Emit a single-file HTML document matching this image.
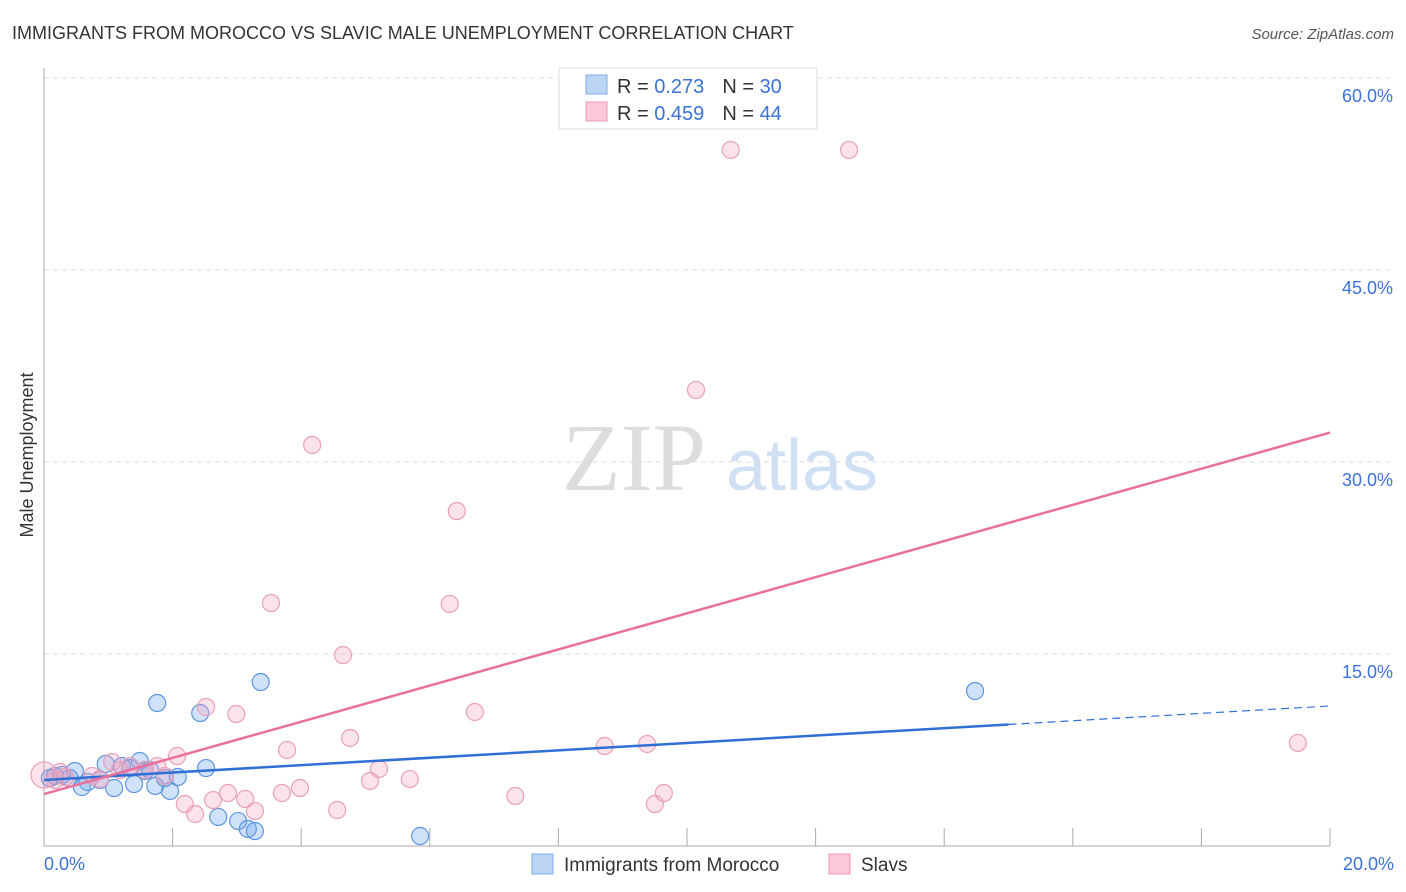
<!DOCTYPE html>
<html><head><meta charset="utf-8"><style>
body{margin:0;background:#fff;font-family:"Liberation Sans",sans-serif}
svg{display:block}
</style></head><body>
<svg id="chart" width="1406" height="892" xmlns="http://www.w3.org/2000/svg">
<text x="12" y="39" font-size="18" fill="#333">IMMIGRANTS FROM MOROCCO VS SLAVIC MALE UNEMPLOYMENT CORRELATION CHART</text>
<text x="1394" y="39" font-size="15" fill="#555" font-style="italic" text-anchor="end">Source: ZipAtlas.com</text>
<g>
<text x="634" y="490" font-size="96" fill="#ddd" font-family="Liberation Serif,serif" text-anchor="middle">ZIP</text>
<text x="802" y="490" font-size="72" fill="#cfe0f5" text-anchor="middle">atlas</text>
</g>
<g id="grid"></g><g id="axes"></g><g id="marks"></g><g id="lines"></g>
<text transform="translate(33,455) rotate(-90)" font-size="18" fill="#333" text-anchor="middle">Male Unemployment</text>
<text x="44" y="870" font-size="18" fill="#3a72d8">0.0%</text>
<text x="1394" y="870" font-size="18" fill="#3a72d8" text-anchor="end">20.0%</text>
<g>
<rect x="559" y="68" width="258" height="61" fill="#fff" stroke="#ddd"/>
<rect x="586" y="75" width="21" height="19" fill="#bcd5f5" stroke="#7eaee8"/>
<rect x="586" y="102" width="21" height="19" fill="#fac8d7" stroke="#ef9ab5"/>
<text x="617" y="93" font-size="20" fill="#333">R = <tspan fill="#3a72d8">0.273</tspan><tspan dx="18">N = </tspan><tspan fill="#3a72d8">30</tspan></text>
<text x="617" y="120" font-size="20" fill="#333">R = <tspan fill="#3a72d8">0.459</tspan><tspan dx="18">N = </tspan><tspan fill="#3a72d8">44</tspan></text>
</g>
<g>
<rect x="532" y="854" width="21" height="20" fill="#bcd5f5" stroke="#7eaee8"/>
<text x="564" y="871" font-size="19" fill="#333">Immigrants from Morocco</text>
<rect x="829" y="854" width="21" height="20" fill="#fac8d7" stroke="#ef9ab5"/>
<text x="861" y="871" font-size="19" fill="#333">Slavs</text>
</g>
</svg>
<script>
const yTicks=[15,30,45,60];
const yTickLabels=["15.0%","30.0%","45.0%","60.0%"];
const xTicks=[0,2,4,6,8,10,12,14,16,18,20];
const blueX=[.09,.17,.28,.40,.48,.59,.68,.87,.96,1.09,1.21,1.34,1.40,1.49,1.57,1.65,1.73,1.76,1.88,1.96,2.08,2.43,2.52,2.71,3.02,3.17,3.28,3.37,5.85,14.48];
const blueY=[5.31,5.47,5.55,5.31,5.86,4.61,5.0,5.16,6.41,4.53,6.25,6.09,4.84,6.64,5.86,5.94,4.69,11.17,5.31,4.30,5.39,10.39,6.09,2.27,1.95,1.33,1.17,12.81,0.78,12.11];
const pinkX=[0,.17,.25,.33,.75,.87,1.06,1.18,1.34,1.57,1.76,1.88,2.07,2.19,2.35,2.52,2.63,2.86,2.99,3.13,3.28,3.53,3.70,3.78,3.98,4.17,4.56,4.65,4.76,5.07,5.21,5.69,6.31,6.42,6.70,7.33,8.72,9.38,9.50,9.64,10.14,10.68,12.52,19.50];
const pinkY=[5.55,5.16,5.78,5.39,5.47,5.23,6.56,5.94,6.25,5.94,6.25,5.47,7.03,3.28,2.5,10.86,3.59,4.14,10.31,3.67,2.73,18.98,4.14,7.5,4.53,31.33,2.81,14.92,8.44,5.08,6.02,5.23,18.91,26.17,10.47,3.91,7.81,7.97,3.28,4.14,35.63,54.38,54.38,8.05];
const blueTrend=[5.16,10.94]; const blueSolidEnd=15.0;
const pinkTrend=[4.06,32.3];
const NS="http://www.w3.org/2000/svg";
const X=v=>44+v*64.3, Y=v=>846-v*12.8;
function mk(tag,attrs,parent){const e=document.createElementNS(NS,tag);for(const k in attrs)e.setAttribute(k,attrs[k]);document.getElementById(parent).appendChild(e);return e;}
yTicks.forEach((t,i)=>{
 const g=mk('line',{x1:44,x2:1394,y1:Y(t),y2:Y(t),stroke:'#ddd','stroke-dasharray':'5,4'},'grid');
 
 
 const l=mk('text',{x:1393,y:Y(t)+24,'font-size':18,fill:'#3a72d8','text-anchor':'end'},'grid');
 l.textContent=yTickLabels[i];
 
 
});
const ax=mk('line',{x1:44,x2:1330,y1:846,y2:846,stroke:'#aaa'},'axes');


const ay=mk('line',{x1:44,x2:44,y1:68,y2:846,stroke:'#aaa'},'axes');


xTicks.forEach(t=>{const k=mk('line',{x1:X(t),x2:X(t),y1:828,y2:846,stroke:'#aaa'},'axes');
 
 });
blueX.forEach((x,i)=>{const c=mk('circle',{cx:X(x),cy:Y(blueY[i]),r:8.5,fill:'rgba(110,165,235,0.32)',stroke:'#5d95e0','stroke-width':1.2},'marks');
 
 });
pinkX.forEach((x,i)=>{const c=mk('circle',{cx:X(x),cy:Y(pinkY[i]),r:i==0?13:8.5,fill:'rgba(245,160,190,0.3)',stroke:'#eba0b8','stroke-width':1.2},'marks');
 
 });
const bAt=v=>blueTrend[0]+(blueTrend[1]-blueTrend[0])*v/20;
const b1=mk('line',{x1:X(0),y1:Y(bAt(0)),x2:X(blueSolidEnd),y2:Y(bAt(blueSolidEnd)),stroke:'#2f6fd6','stroke-width':2.5},'lines');


const b2=mk('line',{x1:X(blueSolidEnd),y1:Y(bAt(blueSolidEnd)),x2:X(20),y2:Y(bAt(20)),stroke:'#2f6fd6','stroke-width':1.2,'stroke-dasharray':'8,5'},'lines');


const p1=mk('line',{x1:X(0),y1:Y(pinkTrend[0]),x2:X(20),y2:Y(pinkTrend[1]),stroke:'#e8709a','stroke-width':2.5},'lines');


</script>
</body></html>
